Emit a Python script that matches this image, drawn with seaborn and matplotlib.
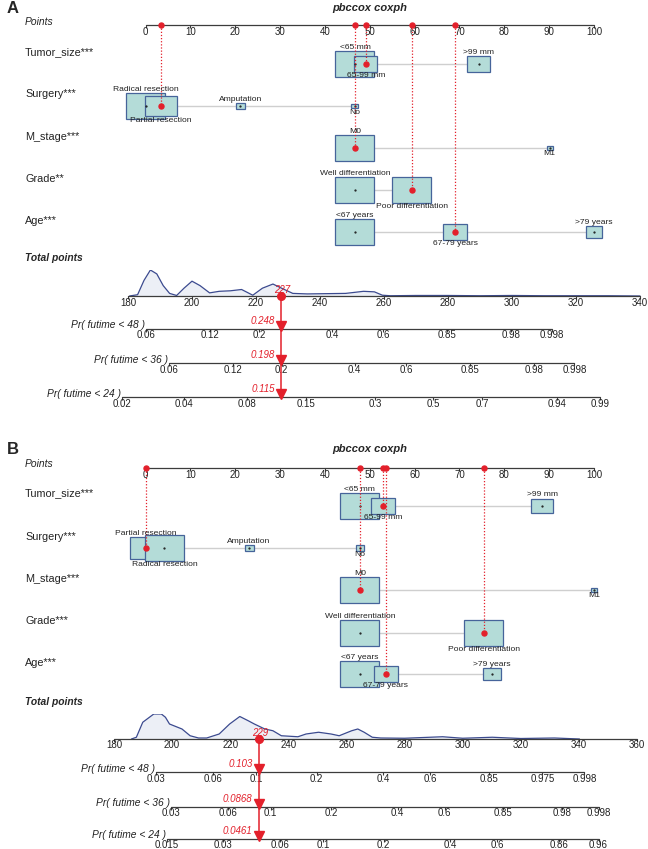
import numpy as np
import pandas as pd
import matplotlib
matplotlib.use("Agg")
from matplotlib import pyplot as plt
from matplotlib import transforms
from matplotlib.patches import Rectangle
import seaborn as sns

W, H = 648, 849

# ---------------- data ----------------
var_names_a = ["Tumor_size***", "Surgery***", "M_stage***", "Grade**", "Age***"]
var_names_b = ["Tumor_size***", "Surgery***", "M_stage***", "Grade***", "Age***"]

tumor_levels = ["<65 mm", "65-99 mm", ">99 mm"]
surgery_levels = ["Radical resection", "Partial resection", "Amputation", "No"]
mstage_levels = ["M0", "M1"]
grade_levels = ["Well differentiation", "Poor differentiation"]
age_levels = ["<67 years", "67-79 years", ">79 years"]

# points per level
tumor_pts_a = [46.7, 49.1, 74.3]
surgery_pts_a = [0.0, 3.5, 21.1, 46.7]
mstage_pts_a = [46.7, 90.1]
grade_pts_a = [46.7, 59.4]
age_pts_a = [46.7, 69.0, 100.0]

tumor_pts_b = [47.8, 53.0, 88.5]
surgery_pts_b = [4.2, 0.0, 23.1, 47.8]
mstage_pts_b = [47.8, 100.0]
grade_pts_b = [47.8, 75.4]
age_pts_b = [47.8, 53.6, 77.3]

# relative frequency of each level (box size)
tumor_freq_a = [100, 35, 35]
surgery_freq_a = [100, 65, 5.3, 3.2]
mstage_freq_a = [100, 2.4]
grade_freq_a = [100, 100]
age_freq_a = [100, 38, 19]

tumor_freq_b = [100, 38, 32]
surgery_freq_b = [100, 67, 5.3, 4.2]
mstage_freq_b = [100, 2.4]
grade_freq_b = [100, 100]
age_freq_b = [100, 38, 21]

# level of the highlighted patient
chosen_a = [1, 1, 0, 1, 1]
chosen_b = [1, 1, 0, 1, 1]

points_ticks = list(range(0, 101, 10))
total_ticks_a = list(range(180, 341, 20))
total_ticks_b = list(range(180, 361, 20))

pr_names = ["Pr( futime < 48 )", "Pr( futime < 36 )", "Pr( futime < 24 )"]
pr_value_a = [0.248, 0.198, 0.115]
pr_value_b = [0.103, 0.0868, 0.0461]
pr_ticks_a = [[0.06, 0.12, 0.2, 0.4, 0.6, 0.85, 0.98, 0.998],
              [0.06, 0.12, 0.2, 0.4, 0.6, 0.85, 0.98, 0.998],
              [0.02, 0.04, 0.08, 0.15, 0.3, 0.5, 0.7, 0.94, 0.99]]
pr_ticks_b = [[0.03, 0.06, 0.1, 0.2, 0.4, 0.6, 0.85, 0.975, 0.998],
              [0.03, 0.06, 0.1, 0.2, 0.4, 0.6, 0.85, 0.98, 0.998],
              [0.015, 0.03, 0.06, 0.1, 0.2, 0.4, 0.6, 0.86, 0.96]]

# distribution of total points
dens_total_a = [180.5, 183, 185, 187, 189, 191, 193, 195.2, 197.5, 200, 202.5, 205.5, 208.5,
                212, 215.5, 219, 222, 225.3, 228, 231.5, 236, 242, 248, 253.6, 257, 259.5,
                262, 270, 280, 290, 300, 310, 320, 330, 340]
dens_a = [0.0, 0.05, 0.6, 1.0, 0.85, 0.4, 0.1, 0.02, 0.3, 0.57, 0.4, 0.12, 0.18,
          0.2, 0.25, 0.03, 0.3, 0.46, 0.3, 0.1, 0.08, 0.09, 0.1, 0.18, 0.16, 0.03,
          0.01, 0.02, 0.02, 0.01, 0.02, 0.01, 0.01, 0.01, 0.0]
dens_total_b = [186, 187.7, 189.9, 193.7, 196.3, 197.7, 199.1, 203.4, 206.2, 209.1, 211.9,
                216.2, 219.8, 223.3, 226.2, 228.3, 231.9, 234.7, 237.6, 243.3, 246.1, 250.4,
                254.7, 257.5, 261.8, 263.9, 266.1, 268.9, 271.8, 280, 293.1, 300, 310.2,
                320, 331.6, 340.2]
dens_b = [0.0, 0.07, 0.67, 1.0, 1.0, 0.87, 0.6, 0.4, 0.13, 0.04, 0.04,
          0.2, 0.6, 0.9, 0.73, 0.6, 0.4, 0.33, 0.13, 0.09, 0.2, 0.27,
          0.2, 0.13, 0.33, 0.4, 0.27, 0.07, 0.04, 0.03, 0.09, 0.03, 0.07,
          0.02, 0.04, 0.0]

# ---------------- style ----------------
RED = "#e3202b"
AXIS = "#3c3c3c"
CONNECT = "#cfcfcf"
BOX_FACE = "#b4dcd8"
BOX_EDGE = "#46649a"
DENS_LINE = "#3b4a8f"
DENS_FILL = "#eceff6"
TXT = "#222222"

FS_VAR = 7.8
FS_LEVEL = 6.1
FS_TICK = 7.0
FS_LABEL = 7.4

sns.set_theme(style="white")
plt.rcParams["font.family"] = ["Liberation Sans", "DejaVu Sans"]

fig = plt.figure(figsize=(W / 100, H / 100), dpi=100)


def lim_from_px(v0, v1, px0, px1):
    s = (v1 - v0) / (px1 - px0)
    return v0 - px0 * s, v0 + (W - px0) * s


def shifted(ax, dx, dy):
    return transforms.offset_copy(ax.transData, fig=fig, x=dx, y=-dy, units="dots")


def cloglog(p):
    return np.log(-np.log(1 - np.asarray(p, dtype=float)))


def draw_axis_line(ax, x0, x1, y, ticks, labels):
    ax.plot([x0, x1], [y, y], color=AXIS, lw=0.9, zorder=2)
    ax.vlines(ticks, y, y + 3, color=AXIS, lw=0.8, zorder=2)
    for t, lab in zip(ticks, labels):
        ax.text(t, y + 1.5, lab, ha="center", va="top", fontsize=FS_TICK, color=TXT)


def draw_panel(letter, names, pts, freq, chosen, total_ticks, pr_value, pr_ticks,
               dens_x, dens_y, lay):
    # ---- points part ----
    ax = fig.add_axes([0, 0, 1, 1])
    ax.set_xlim(*lim_from_px(0, 100, 145.5, 594))
    ax.set_ylim(H, 0)
    ax.set_axis_off()
    px_per_pt = (594 - 145.5) / 100
    left = transforms.blended_transform_factory(fig.transFigure, ax.transData)

    ax.text(7 / W, lay["title_y"], letter, transform=left, fontsize=12, fontweight="bold",
            va="center", ha="left")
    ax.text(370 / W, lay["title_y"], "pbccox coxph", transform=left, fontsize=8,
            fontweight="bold", fontstyle="italic", ha="center", va="center")
    ax.text(25 / W, lay["points_lbl"], "Points", transform=left, fontsize=FS_LABEL,
            fontstyle="italic", va="center", color=TXT)
    draw_axis_line(ax, 0, 100, lay["points_axis"], points_ticks, [str(t) for t in points_ticks])

    levels = [tumor_levels, surgery_levels, mstage_levels, grade_levels, age_levels]
    total = 0.0
    for i, name in enumerate(names):
        yb = lay["box_y"][i]
        ax.text(25 / W, lay["var_lbl"][i], name, transform=left, fontsize=FS_VAR,
                va="center", color=TXT)
        p = pts[i]
        f = np.asarray(freq[i], dtype=float)
        scale = np.sqrt(f / f.max())
        ax.plot([min(p), max(p)], [yb, yb], color=CONNECT, lw=1.0, zorder=1)
        order = np.argsort(p, kind="stable")
        for rank, j in enumerate(order):
            w = 39 * scale[j] / px_per_pt
            h = 26 * scale[j]
            ax.add_patch(Rectangle((p[j] - w / 2, yb - h / 2), w, h, facecolor=BOX_FACE,
                                   edgecolor=BOX_EDGE, lw=0.9, zorder=2))
            ax.plot(p[j], yb, marker=".", ms=1.2, color="k", zorder=3)
            if rank % 2 == 0:
                ax.text(p[j], yb - h / 2 - 0.3, levels[i][j], ha="center", va="bottom",
                        fontsize=FS_LEVEL, color=TXT, zorder=5)
            else:
                ax.text(p[j], yb + h / 2 + 0.3, levels[i][j], ha="center", va="top",
                        fontsize=FS_LEVEL, color=TXT, zorder=5)
        sel = p[chosen[i]]
        total += sel
        ax.plot([sel, sel], [lay["points_axis"], yb], color=RED, lw=0.9,
                ls=(0, (1, 1.5)), zorder=4)
        ax.plot([sel, sel], [lay["points_axis"], yb], "o", color=RED, ms=3.6, zorder=5)

    # ---- total points and probabilities ----
    t0, t1 = total_ticks[0], total_ticks[-1]
    xl = lim_from_px(t0, t1, lay["tot_px"][0], lay["tot_px"][1])

    # density sits underneath the axis marks
    ax_d = fig.add_axes([0, 1 - lay["tot_axis"] / H, 1, lay["dens_px"] / H])
    ax_d.set_xlim(*xl)
    ax_d.set_ylim(0, 1)
    ax_d.fill_between(dens_x, 0, dens_y, color=DENS_FILL, lw=0)
    sns.lineplot(x=dens_x, y=dens_y, ax=ax_d, color=DENS_LINE, lw=0.9, sort=False)
    ax_d.set_axis_off()
    ax_d.set_zorder(0)

    ax2 = fig.add_axes([0, 0, 1, 1])
    ax2.set_xlim(*xl)
    ax2.set_ylim(H, 0)
    ax2.set_axis_off()
    ax2.set_zorder(1)
    left2 = transforms.blended_transform_factory(fig.transFigure, ax2.transData)

    ax2.text(25 / W, lay["tot_lbl"], "Total points", transform=left2, fontsize=FS_LABEL,
             fontweight="bold", fontstyle="italic", va="center")
    yt = lay["tot_axis"]
    draw_axis_line(ax2, t0, t1, yt, total_ticks, [str(t) for t in total_ticks])

    for j, name in enumerate(pr_names):
        yp = lay["pr_y"][j]
        ticks = pr_ticks[j]
        pos = total + lay["k"] * (cloglog(ticks) - cloglog(pr_value[j]))
        draw_axis_line(ax2, pos[0], pos[-1], yp, pos, [str(t) for t in ticks])
        ax2.text(pos[0], yp, name, transform=shifted(ax2, -1, -3.5), ha="right",
                 va="center", fontsize=FS_LABEL, fontstyle="italic", color=TXT)
        ax2.plot(total, yp, marker="v", ms=7, color=RED, transform=shifted(ax2, 0, -3),
                 zorder=6)
        ax2.text(total, yp, str(pr_value[j]), transform=shifted(ax2, -6, -3), ha="right",
                 va="bottom", fontsize=FS_TICK, fontstyle="italic", color=RED, zorder=6)

    ax2.plot([total, total], [yt, lay["pr_y"][-1] - 2], color=RED, lw=1.1, zorder=5)
    ax2.plot(total, yt, "o", color=RED, ms=5.5, zorder=6)
    ax2.text(total, yt, str(int(total)), transform=shifted(ax2, 1, -1), ha="center",
             va="bottom", fontsize=FS_TICK, fontstyle="italic", color=RED, zorder=7)


layout_a = dict(title_y=8, points_lbl=22, points_axis=25,
                var_lbl=[52, 94, 137, 179, 221], box_y=[64, 106, 148, 190, 232],
                tot_lbl=258, tot_axis=296, dens_px=26, tot_px=(128, 640),
                pr_y=[329, 363, 397], k=27.5)
layout_b = dict(title_y=449, points_lbl=464, points_axis=468,
                var_lbl=[493, 537, 579, 621, 663], box_y=[506, 548, 590, 633, 674],
                tot_lbl=702, tot_axis=739, dens_px=25, tot_px=(114, 637),
                pr_y=[772, 807, 839], k=27.7)

draw_panel("A", var_names_a,
           [tumor_pts_a, surgery_pts_a, mstage_pts_a, grade_pts_a, age_pts_a],
           [tumor_freq_a, surgery_freq_a, mstage_freq_a, grade_freq_a, age_freq_a],
           chosen_a, total_ticks_a, pr_value_a, pr_ticks_a, dens_total_a, dens_a, layout_a)
draw_panel("B", var_names_b,
           [tumor_pts_b, surgery_pts_b, mstage_pts_b, grade_pts_b, age_pts_b],
           [tumor_freq_b, surgery_freq_b, mstage_freq_b, grade_freq_b, age_freq_b],
           chosen_b, total_ticks_b, pr_value_b, pr_ticks_b, dens_total_b, dens_b, layout_b)

fig.savefig("out.png", dpi=100, facecolor="white")
